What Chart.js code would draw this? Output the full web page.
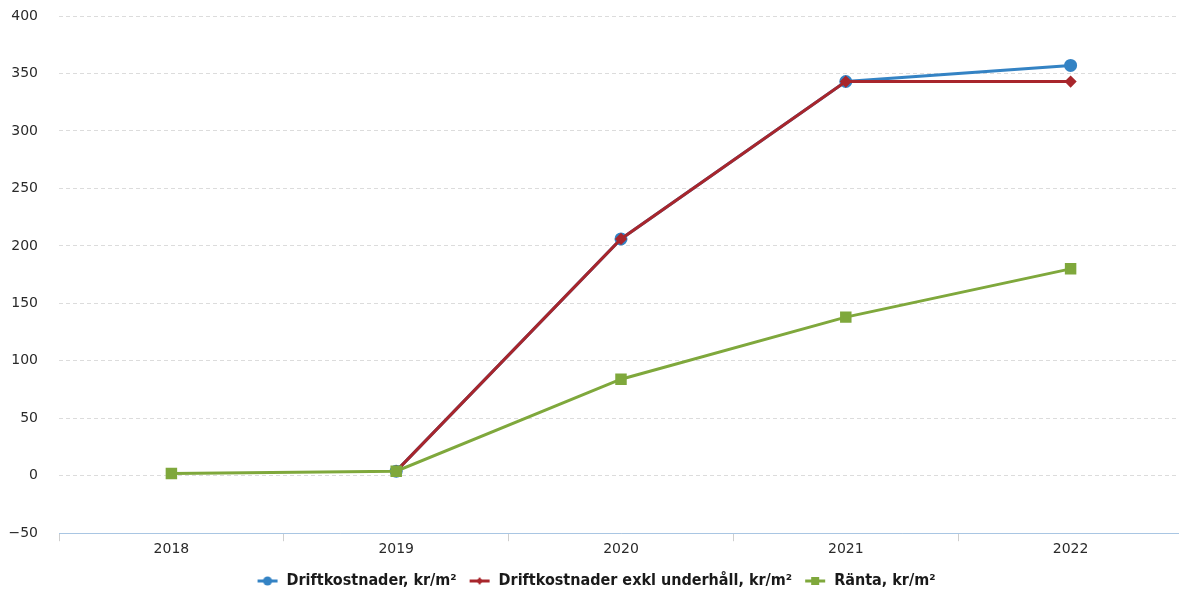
<!DOCTYPE html>
<html>
<head>
<meta charset="utf-8">
<script src="https://cdn.jsdelivr.net/npm/chart.js@4/dist/chart.umd.min.js"></script>
<style>
  html, body { margin: 0; padding: 0; background: #fff; overflow: hidden; }
  #wrap { width: 1192px; height: 593px; }
</style>
</head>
<body>
<div id="wrap"><canvas id="chart" width="1192" height="593"></canvas></div>
<script>
// values
const years = ['2018', '2019', '2020', '2021', '2022']
const driftkostnader = [null, 4, 206, 343, 357]
const driftExklUnderhall = [null, 4, 206, 343, 343]
const ranta = [2, 4, 84, 138, 180]
const yTicks = [-50, 0, 50, 100, 150, 200, 250, 300, 350, 400]

const BLUE = '#3483c4'
const RED = '#a8262c'
const GREEN = '#7fa83c'

// small legend marker: a short line with the point in the middle
function legendMarker(color, style){
    const c = document.createElement('canvas')
    c.width = 22
    c.height = 12
    const g = c.getContext('2d')
    g.strokeStyle = color
    g.fillStyle = color
    g.lineWidth = 3
    g.beginPath()
    g.moveTo(1, 6)
    g.lineTo(21, 6)
    g.stroke()
    if(style == 'circle'){
        g.beginPath()
        g.arc(11, 6, 4.5, 0, Math.PI * 2)
        g.fill()
    }
    else if(style == 'rect'){
        g.fillRect(7, 2, 8, 8)
    }
    else{
        g.beginPath()
        g.moveTo(11, 2)
        g.lineTo(14, 6)
        g.lineTo(11, 10)
        g.lineTo(8, 6)
        g.closePath()
        g.fill()
    }
    return c
}
const markers = [legendMarker(BLUE, 'circle'), legendMarker(RED, 'diamond'), legendMarker(GREEN, 'rect')]

const ctx = document.getElementById('chart').getContext('2d')
const chart = new Chart(ctx, {
    type: 'line',
    data: {
        labels: years,
        datasets: [
            {
                label: 'Driftkostnader, kr/m²',
                data: driftkostnader,
                borderColor: BLUE,
                backgroundColor: BLUE,
                borderWidth: 3,
                pointStyle: 'circle',
                pointRadius: 5,
                order: 3,
            },
            {
                label: 'Driftkostnader exkl underhåll, kr/m²',
                data: driftExklUnderhall,
                borderColor: RED,
                backgroundColor: RED,
                borderWidth: 3,
                pointStyle: 'rectRot',
                pointRadius: 4,
                order: 2,
            },
            {
                label: 'Ränta, kr/m²',
                data: ranta,
                borderColor: GREEN,
                backgroundColor: GREEN,
                borderWidth: 3,
                pointStyle: 'rect',
                pointRadius: 6,
                order: 1,
            },
        ]
    },
    options: {
        responsive: false,
        animation: false,
        devicePixelRatio: 1,
        layout: {
            padding: {top: 16, right: 0, bottom: -6, left: 0}
        },
        plugins: {
            tooltip: {enabled: false},
            legend: {
                display: true,
                position: 'bottom',
                labels: {
                    usePointStyle: true,
                    pointStyleWidth: 22,
                    padding: 12,
                    color: '#1a1a1a',
                    font: {family: '"DejaVu Sans Condensed", "DejaVu Sans"', size: 16, weight: 'bold'},
                    sort: (a, b) => a.datasetIndex - b.datasetIndex,
                    generateLabels: (ch) => {
                        const items = Chart.defaults.plugins.legend.labels.generateLabels(ch)
                        items.forEach((it) => { it.pointStyle = markers[it.datasetIndex] })
                        return items
                    }
                }
            }
        },
        scales: {
            x: {
                offset: true,
                afterFit: (scale) => { scale.height += 3 },
                grid: {
                    display: true,
                    offset: true,
                    drawOnChartArea: false,
                    drawTicks: true,
                    tickLength: 8,
                    color: '#cfcfcf',
                },
                border: {display: true, color: '#a9c6e3', width: 1},
                ticks: {
                    color: '#2a2a2a',
                    padding: 0,
                    font: {family: '"DejaVu Sans"', size: 14},
                }
            },
            y: {
                min: -50,
                max: 400,
                afterBuildTicks: (scale) => { scale.ticks = yTicks.map(v => ({value: v})) },
                afterFit: (scale) => { scale.width = 59 },
                grid: {
                    color: '#dcdcdc',
                    drawTicks: true,
                    tickLength: 19,
                    tickColor: 'rgba(0,0,0,0)',
                },
                border: {display: false, dash: [4, 3]},
                ticks: {
                    color: '#2a2a2a',
                    padding: 2,
                    font: {family: '"DejaVu Sans"', size: 14},
                    callback: (v) => String(v).replace('-', '−'),
                }
            }
        }
    }
})
</script>
</body>
</html>
